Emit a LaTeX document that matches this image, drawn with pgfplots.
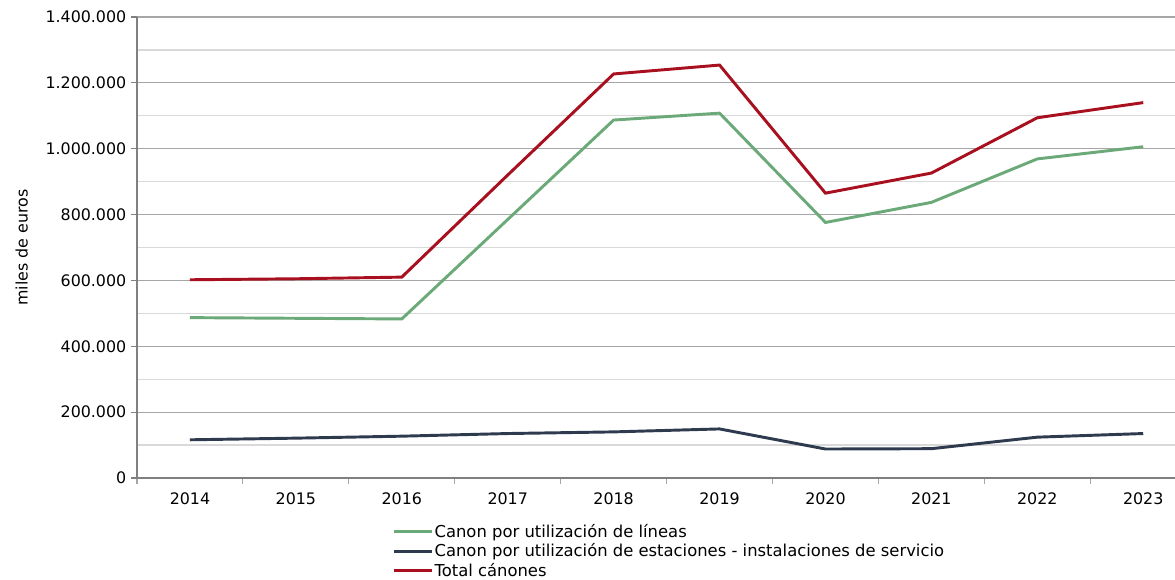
\documentclass[border=0pt]{standalone}
\usepackage{pgfplots}
\pgfplotsset{compat=1.18}
\usepackage{fontspec}
\setmainfont{DejaVu Sans}
\definecolor{cgreen}{HTML}{6BAA78}
\definecolor{cnavy}{HTML}{2E3A4E}
\definecolor{cred}{HTML}{A8101F}
\definecolor{gmaj}{HTML}{A6A6A6}
\definecolor{gmin}{HTML}{D9D9D9}
\begin{document}
\begin{tikzpicture}
\useasboundingbox (-102.75pt,-76.5pt) rectangle (778.5pt,358.5pt);
\begin{axis}[
  scale only axis, width=778.5pt, height=345.75pt,
  at={(0pt,0pt)}, anchor=south west,
  font=\fontsize{11.9pt}{13.8pt}\selectfont,
  xmin=-0.5, xmax=9.3, ymin=0, ymax=1400000,
  axis x line*=bottom, axis y line*=left,
  axis line style={-, draw=gray, line width=1pt},
  xtick={0,...,9},
  xticklabels={2014,2015,2016,2017,2018,2019,2020,2021,2022,2023},
  major x tick style={draw=none},
  minor xtick={-0.5,0.5,...,9},
  minor x tick style={draw=gray!70, line width=0.8pt},
  ytick={0,200000,...,1400000},
  minor ytick={100000,300000,...,1300000},
  minor y tick style={draw=none},
  major y tick style={draw=gray, line width=0.8pt},
  tick align=outside, major tick length=4.5pt, minor tick length=4.5pt,
  ymajorgrids, yminorgrids,
  major y grid style={draw=gmaj, line width=0.9pt},
  minor y grid style={draw=gmin, line width=0.9pt},
  scaled y ticks=false,
  y tick label style={/pgf/number format/.cd, fixed, precision=0, 1000 sep={.}, assume math mode=true},
  xticklabel style={yshift=-3pt},
  ylabel={miles de euros},
  ylabel style={at={(axis description cs:-0.111,0.5)}, anchor=center},
  legend style={at={(rel axis cs:0.2457,-0.097)}, anchor=north west, draw=none, fill=none, inner sep=0pt, row sep=1.3pt, nodes={inner sep=1pt, anchor=west}, font=\fontsize{12.3pt}{14pt}\selectfont},
  legend cell align=left,
  legend image code/.code={\draw[#1, line width=2.2pt] (0pt,0pt) -- (28.5pt,0pt);},
]
\addplot[cgreen, line width=2.2pt] coordinates {
(0,487000) (1,485000) (2,483000) (3,785000) (4,1087000) (5,1108000) (6,776000) (7,837000) (8,969000) (9,1006000)};
\addlegendentry{Canon por utilización de líneas}
\addplot[cnavy, line width=2.2pt] coordinates {
(0,116000) (1,121000) (2,127000) (3,135000) (4,140000) (5,149000) (6,88000) (7,89000) (8,124000) (9,135000)};
\addlegendentry{Canon por utilización de estaciones - instalaciones de servicio}
\addplot[cred, line width=2.2pt] coordinates {
(0,602000) (1,605000) (2,610000) (3,920000) (4,1227000) (5,1254000) (6,865000) (7,926000) (8,1094000) (9,1140000)};
\addlegendentry{Total cánones}
\end{axis}
\end{tikzpicture}
\end{document}
